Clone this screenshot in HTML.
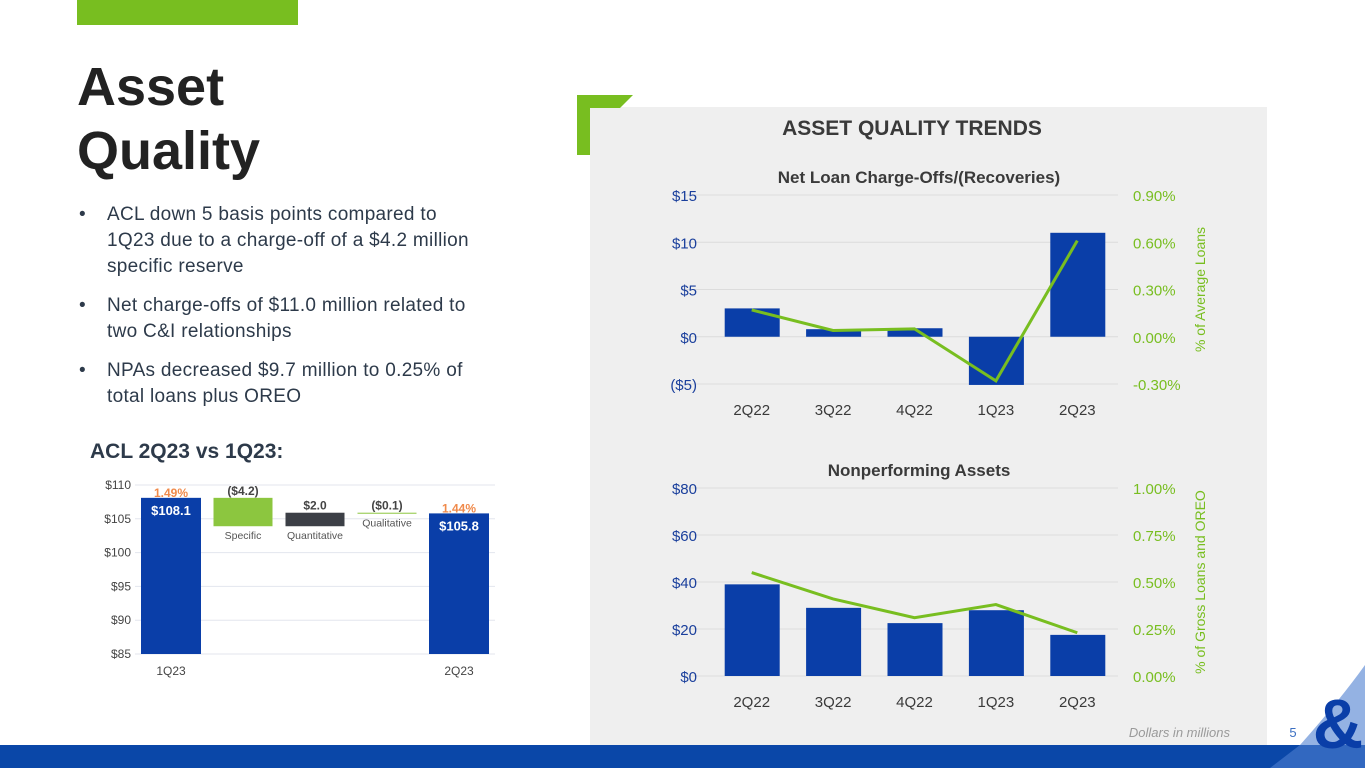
<!DOCTYPE html>
<html><head><meta charset="utf-8">
<style>
body{margin:0;width:1365px;height:768px;overflow:hidden;background:#fff;font-family:"Liberation Sans",sans-serif;position:relative}
.abs{position:absolute}
ul{list-style:none;margin:0;padding:0}
li{position:relative;padding-left:30px;font-size:19px;line-height:26px;color:#2d3a4a;margin-bottom:13px;letter-spacing:0.3px}
li:before{content:"•";position:absolute;left:2px;top:0}
</style></head><body>
<div class="abs" style="left:77px;top:0;width:221px;height:25px;background:#78be20"></div>
<div class="abs" style="left:77px;top:55px;font-size:54px;line-height:64px;font-weight:bold;color:#222">Asset<br>Quality</div>
<ul class="abs" style="left:77px;top:202px;width:400px">
<li>ACL down 5 basis points compared to 1Q23 due to a charge-off of a $4.2 million specific reserve</li>
<li>Net charge-offs of $11.0 million related to two C&amp;I relationships</li>
<li>NPAs decreased $9.7 million to 0.25% of total loans plus OREO</li>
</ul>
<div class="abs" style="left:90px;top:440px;font-size:21px;font-weight:bold;color:#2d3a4a">ACL 2Q23 vs 1Q23:</div>
<div class="abs" style="left:590px;top:107px;width:677px;height:638px;background:#efefef"></div>
<svg class="abs" style="left:0;top:0" width="1365" height="768">
<polygon points="577,95 633,95 620,108 590,108 590,155 577,155" fill="#78be20"/>
<rect x="0" y="745" width="1365" height="23" fill="#0a47a8"/>
<path d="M1300,745 Q1340,700 1365,665 L1365,768 L1270,768 Z" fill="#4c7fd0" opacity="0.6"/>
<text x="1338" y="748" font-size="70" font-weight="bold" fill="#0a3ea8" text-anchor="middle" font-family="Liberation Sans">&amp;</text>
<text x="1230" y="737" font-size="13" font-style="italic" fill="#9a9a9a" text-anchor="end">Dollars in millions</text>
<text x="1293" y="737" font-size="13" fill="#3b6fc2" text-anchor="middle">5</text>
<text x="912" y="135" font-size="21" font-weight="bold" fill="#3a3a3a" text-anchor="middle">ASSET QUALITY TRENDS</text>
</svg>
<svg id="c" class="abs" style="left:0;top:0" width="1365" height="768"></svg>
<script>
const quarters=["2Q22","3Q22","4Q22","1Q23","2Q23"];
const ncoValues=[3.0,0.8,0.9,-5.1,11.0];
const ncoPct=[0.17,0.04,0.05,-0.28,0.61];
const ncoTicks=["($5)","$0","$5","$10","$15"];
const ncoPctTicks=["-0.30%","0.00%","0.30%","0.60%","0.90%"];
const npaValues=[39,29,22.5,28,17.5];
const npaPct=[0.55,0.41,0.31,0.38,0.23];
const npaTicks=["$0","$20","$40","$60","$80"];
const npaPctTicks=["0.00%","0.25%","0.50%","0.75%","1.00%"];
const wfCats=["1Q23","Specific","Quantitative","Qualitative","2Q23"];
const wfDeltas=[108.1,-4.2,2.0,-0.1,105.8];
const wfLabels=["$108.1","($4.2)","$2.0","($0.1)","$105.8"];
const wfPct=["1.49%","","","","1.44%"];
const wfTicks=[85,90,95,100,105,110];
const svg=document.getElementById('c');const NS="http://www.w3.org/2000/svg";
function mk(t,a,txt){const e=document.createElementNS(NS,t);for(const k in a)e.setAttribute(k,a[k]);if(txt!==undefined)e.textContent=txt;svg.appendChild(e);return e;}
function combo(o){
 const x0=711,x1=1118,n=quarters.length,bw=(x1-x0)/n;
 const y=v=>o.yTop+(o.max-v)/(o.max-o.min)*(o.yBot-o.yTop);
 const yr=v=>o.yTop+(o.rmax-v)/(o.rmax-o.rmin)*(o.yBot-o.yTop);
 let t=mk('text',{x:919,y:o.yTop-12,'font-size':17,'font-weight':'bold',fill:'#3a3a3a','text-anchor':'middle'},o.title);
 
 o.ticks.forEach((lab,i)=>{const v=o.min+i*(o.max-o.min)/(o.ticks.length-1);
  let g=mk('line',{x1:683,x2:1118,y1:y(v),y2:y(v),stroke:'#dcdcdc','stroke-width':1});
  
  let a=mk('text',{x:697,y:y(v)+6,'font-size':15,fill:'#1a3f9c','text-anchor':'end'},lab);
  
  let b=mk('text',{x:1133,y:yr(o.rmin+i*(o.rmax-o.rmin)/(o.rticks.length-1))+6,'font-size':15,fill:'#78be20'},o.rticks[i]);
  });
 quarters.forEach((q,i)=>{const cx=x0+bw*(i+0.5),v=o.vals[i];
  let r=mk('rect',{x:cx-27,y:Math.min(y(v),y(0)),width:55,height:Math.abs(y(v)-y(0)),fill:'#0a3ea8'});
  
  let l=mk('text',{x:cx,y:o.yBot+31,'font-size':15,fill:'#3a3a3a','text-anchor':'middle'},q);
  });
 const pts=o.pct.map((p,i)=>(x0+bw*(i+0.5))+','+yr(p)).join(' ');
 let pl=mk('polyline',{points:pts,fill:'none',stroke:'#78be20','stroke-width':3});
 
 const my=(o.yTop+o.yBot)/2;
 let at=mk('text',{x:1205,y:my,'font-size':14,fill:'#78be20','text-anchor':'middle',transform:'rotate(-90 1205 '+my+')'},o.axis);
 
}
combo({name:'nco',title:'Net Loan Charge-Offs/(Recoveries)',yTop:195,yBot:384,min:-5,max:15,rmin:-0.3,rmax:0.9,vals:ncoValues,pct:ncoPct,ticks:ncoTicks,rticks:ncoPctTicks,axis:'% of Average Loans'});
combo({name:'npa',title:'Nonperforming Assets',yTop:488,yBot:676,min:0,max:80,rmin:0,rmax:1.0,vals:npaValues,pct:npaPct,ticks:npaTicks,rticks:npaPctTicks,axis:'% of Gross Loans and OREO'});
(function(){
 const yT=485,yB=654,mn=85,mx=110;const y=v=>yT+(mx-v)/(mx-mn)*(yB-yT);
 const xs=[171,243,315,387,459];
 wfTicks.forEach(v=>{let g=mk('line',{x1:135,x2:495,y1:y(v),y2:y(v),stroke:'#e3e6ee'});
  
  let t=mk('text',{x:131,y:y(v)+4,'font-size':12,fill:'#444','text-anchor':'end'},'$'+v);
  });
 let run=wfDeltas[0];
 wfCats.forEach((c,i)=>{let top,bot,fill,w=60;
  if(i==0||i==4){top=wfDeltas[i];bot=mn;fill='#0a3ea8';run=wfDeltas[i];}
  else{const nv=run+wfDeltas[i];top=Math.max(run,nv);bot=Math.min(run,nv);run=nv;fill=['','#8cc63f','#3c3f46','#8cc63f'][i];w=59;}
  let h=Math.max(y(bot)-y(top),1);
  let r=mk('rect',{x:xs[i]-w/2,y:y(top),width:w,height:h,fill:fill});
  
  if(i==0||i==4){let v=mk('text',{x:xs[i],y:y(top)+17,'font-size':13,'font-weight':'bold',fill:'#fff','text-anchor':'middle'},wfLabels[i]);
   
   let p=mk('text',{x:xs[i],y:y(top)-1,'font-size':12,'font-weight':'bold',fill:'#f08a4b','text-anchor':'middle'},wfPct[i]);
   
   let l=mk('text',{x:xs[i],y:675,'font-size':12,fill:'#444','text-anchor':'middle'},c);
   }
  else{let v=mk('text',{x:xs[i],y:y(top)-3,'font-size':12,'font-weight':'bold',fill:'#444','text-anchor':'middle'},wfLabels[i]);
   
   let l=mk('text',{x:xs[i],y:y(bot)+13,'font-size':10.5,fill:'#555','text-anchor':'middle'},c);
   }
 });
})();
</script>
</body></html>
